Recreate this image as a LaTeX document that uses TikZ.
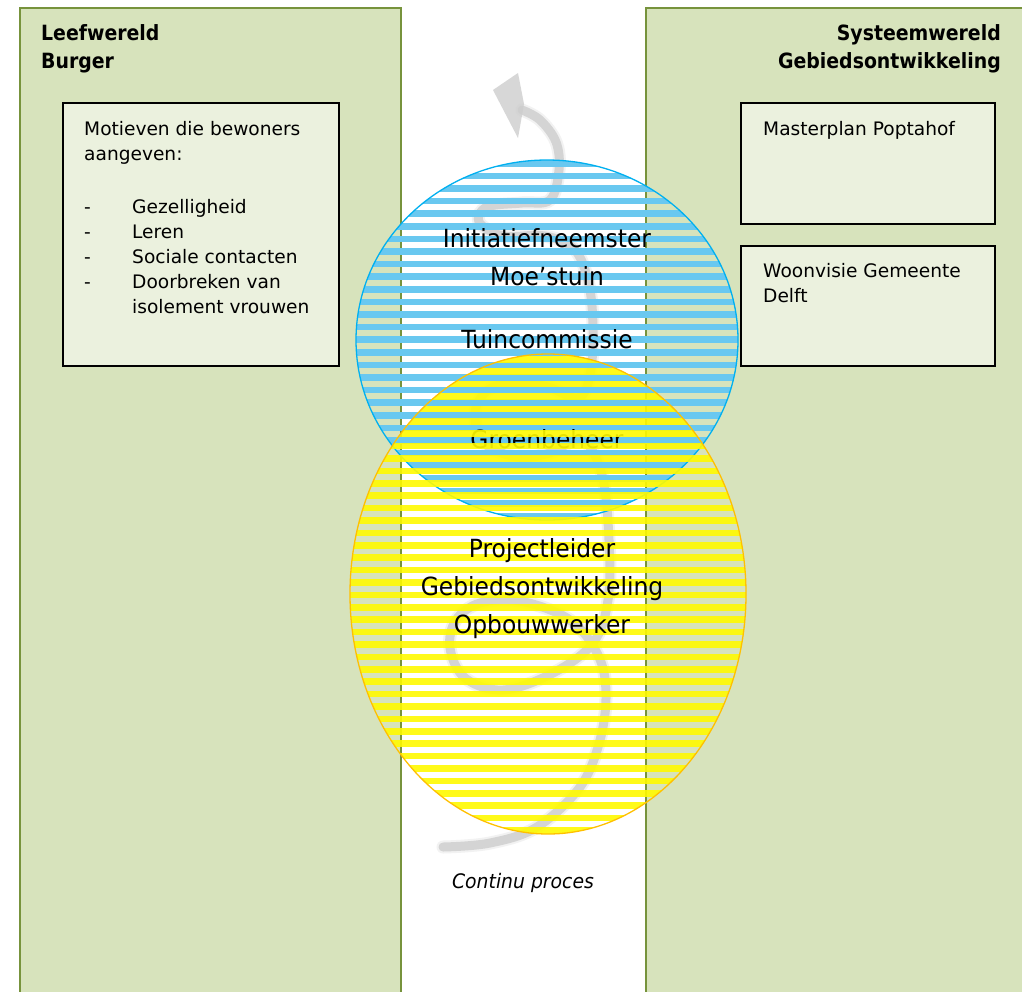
\documentclass[tikz,border=0pt]{standalone}
\usepackage{fontspec}
\setmainfont{DejaVu Sans}
\newfontfamily\narrowfont[FakeStretch=0.935]{DejaVu Sans}
\newfontfamily\headfont[FakeStretch=0.9]{DejaVu Sans}
\newfontfamily\procesfont[FakeStretch=0.94]{DejaVu Sans}
\usetikzlibrary{positioning}

\definecolor{panelgreen}{RGB}{215,227,188}
\definecolor{paneledge}{RGB}{119,147,60}
\definecolor{boxfill}{RGB}{235,241,222}
\definecolor{circblue}{RGB}{0,176,240}
\definecolor{stripeblue}{RGB}{105,200,240}
\definecolor{circorange}{RGB}{255,192,0}
\definecolor{stripeyellow}{RGB}{255,250,0}
\definecolor{spiralgray}{RGB}{205,205,205}

\tikzset{
	panel/.style={fill=panelgreen,draw=paneledge,line width=1.6pt},
	infobox/.style={fill=boxfill,draw=black,line width=1.3pt},
	headtext/.style={inner sep=0pt,font=\headfont\fontsize{21}{24}\selectfont\bfseries},
	boxtext/.style={inner sep=0pt,anchor=base west,font=\fontsize{18.6}{22}\selectfont},
	circtext/.style={inner sep=0pt,anchor=base,font=\narrowfont\fontsize{25}{30}\selectfont},
	spiral/.style={draw=spiralgray,line width=9pt,line cap=round,line join=round,opacity=0.8}
}

\begin{document}
\begin{tikzpicture}[x=1pt,y=-1pt]
	\useasboundingbox (0,0) rectangle (1022,991);
	\clip (0,0) rectangle (1022,991);
	\fill[white] (0,0) rectangle (1022,991);
	
	% lifeworld and system world
	\draw[panel] (20,8) rectangle (401,1000);
	\draw[panel] (646,8) rectangle (1030,1000);
	\node[headtext,anchor=base west] (leef) at (41,40){Leefwereld};
	\node[headtext,anchor=base west] (burger) at (41,68){Burger};
	\node[headtext,anchor=base east] (systeem) at (1001,40){Systeemwereld};
	\node[headtext,anchor=base east] (gebied) at (1001,68){Gebiedsontwikkeling};
	
	\draw[infobox] (63,103) rectangle (339,366);
	\node[boxtext] (motief1) at (84,135){Motieven die bewoners};
	\node[boxtext] (motief2) at (84,160){aangeven:};
	\node[boxtext] (dash1) at (84,213){-};
	\node[boxtext] (dash2) at (84,238){-};
	\node[boxtext] (dash3) at (84,263){-};
	\node[boxtext] (dash4) at (84,288){-};
	\node[boxtext] (gezellig) at (132,213){Gezelligheid};
	\node[boxtext] (leren) at (132,238){Leren};
	\node[boxtext] (sociaal) at (132,263){Sociale contacten};
	\node[boxtext] (doorbreken) at (132,288){Doorbreken van};
	\node[boxtext] (isolement) at (132,313){isolement vrouwen};
	
	\draw[infobox] (741,103) rectangle (995,224);
	\node[boxtext] (master) at (763,135){Masterplan Poptahof};
	\draw[infobox] (741,246) rectangle (995,366);
	\node[boxtext] (woon1) at (763,277){Woonvisie Gemeente};
	\node[boxtext] (woon2) at (763,302){Delft};
	
	% continuous process
	\draw[spiral,line width=13pt,opacity=0.25] plot[smooth,tension=0.6] coordinates {(443,847) (490,843) (537,827) (580,787) (600,740) (606,693) (598,655) (570,620) (520,601) (480,603) (456,620) (450,648) (465,678) (503,690) (553,673) (593,643) (608,600) (609,540) (602,475) (582,440) (550,453) (517,457) (484,443) (475,413) (488,390) (515,383) (548,387) (578,398) (590,375) (593,330) (589,285) (575,250) (545,236) (503,236) (479,222) (487,207) (522,203) (550,200) (559,170) (556,142) (540,120) (522,110)};
	\draw[spiral] plot[smooth,tension=0.6] coordinates {(443,847) (490,843) (537,827) (580,787) (600,740) (606,693) (598,655) (570,620) (520,601) (480,603) (456,620) (450,648) (465,678) (503,690) (553,673) (593,643) (608,600) (609,540) (602,475) (582,440) (550,453) (517,457) (484,443) (475,413) (488,390) (515,383) (548,387) (578,398) (590,375) (593,330) (589,285) (575,250) (545,236) (503,236) (479,222) (487,207) (522,203) (550,200) (559,170) (556,142) (540,120) (522,110)};
	\fill[spiralgray,opacity=0.8] (493,90) -- (518,73) -- (524,104) -- (518,138) -- cycle;
	\node[inner sep=0pt,anchor=base,font=\procesfont\fontsize{20}{24}\selectfont\itshape] (proces) at (523,888){Continu proces};
	
	% blue circle
	\begin{scope}
		\clip (547,340) ellipse [x radius=191,y radius=180];
		\foreach \y in {160,172.6,...,530}
			\fill[stripeblue] (340,\y) rectangle (760,\y+6.5);
	\end{scope}
	\draw[circblue,line width=1.3pt] (547,340) ellipse [x radius=191,y radius=180];
	\node[circtext] (initiatief) at (547,247){Initiatiefneemster};
	\node[circtext] (moestuin) at (547,285){Moe’stuin};
	\node[circtext] (tuin) at (547,348){Tuincommissie};
	\node[circtext] (groen) at (547,448){Groenbeheer};
	
	% yellow ellipse
	\begin{scope}
		\clip (548,594) ellipse [x radius=198,y radius=240];
		\foreach \y in {356,368.4,...,840}
			\fill[stripeyellow,opacity=0.9] (340,\y) rectangle (760,\y+6.5);
	\end{scope}
	\draw[circorange,line width=1.3pt] (548,594) ellipse [x radius=198,y radius=240];
	\node[circtext] (project) at (542,557){Projectleider};
	\node[circtext] (gebiedsont) at (542,595){Gebiedsontwikkeling};
	\node[circtext] (opbouw) at (542,633){Opbouwwerker};
\end{tikzpicture}
\end{document}
